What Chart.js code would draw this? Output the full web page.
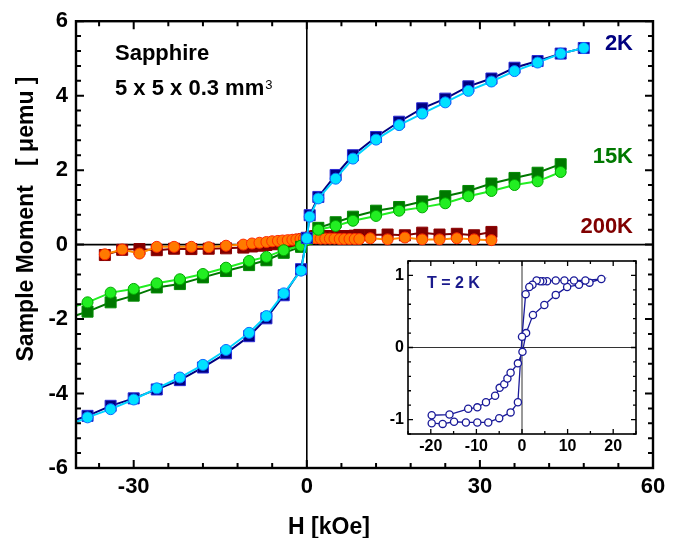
<!DOCTYPE html>
<html><head><meta charset="utf-8">
<script src="https://cdn.jsdelivr.net/npm/chart.js@4.4.1/dist/chart.umd.min.js"></script>
<style>
html,body{margin:0;padding:0;background:#fff;}
#wrap{position:relative;width:678px;height:538px;overflow:hidden;}
#main{position:absolute;left:0;top:0;}
#inset{position:absolute;left:385px;top:245px;}
</style></head><body>
<div id="wrap"><canvas id="main" width="678" height="538"></canvas><canvas id="inset" width="260" height="213"></canvas></div>
<script>
// ---- data (H in kOe, M in micro-emu) ----
const h2k = [-42,-38,-34,-30,-26,-22,-18,-14,-10,-7,-4,-1,0,0.5,2,5,8,12,16,20,24,28,32,36,40,44,48];
const m2kCirc = [-4.90,-4.64,-4.42,-4.16,-3.86,-3.57,-3.23,-2.83,-2.37,-1.92,-1.31,-0.70,0.17,0.75,1.24,1.77,2.31,2.82,3.21,3.52,3.82,4.13,4.38,4.66,4.89,5.13,5.28];
const m2kSq   = [-4.80,-4.60,-4.33,-4.13,-3.89,-3.64,-3.30,-2.92,-2.46,-1.98,-1.36,-0.66,0.18,0.79,1.28,1.87,2.40,2.89,3.30,3.66,3.92,4.25,4.46,4.75,4.93,5.13,5.28];

const h15k = [-42,-38,-34,-30,-26,-22,-18,-14,-10,-7,-4,-1,0,2,5,8,12,16,20,24,28,32,36,40,44];
const m15kCirc = [-1.75,-1.55,-1.29,-1.19,-1.04,-0.93,-0.79,-0.62,-0.44,-0.33,-0.15,-0.03,0.12,0.40,0.50,0.64,0.77,0.91,1.00,1.11,1.30,1.44,1.60,1.70,1.95];
const m15kSq   = [-2.00,-1.80,-1.55,-1.37,-1.15,-1.06,-0.88,-0.71,-0.55,-0.42,-0.22,-0.06,0.15,0.45,0.60,0.75,0.91,1.01,1.16,1.30,1.44,1.64,1.79,1.93,2.16];

const h200k = [-35,-32,-29,-26,-23,-20,-17,-14,-11,-9.5,-8.2,-7,-6,-5,-4.2,-3.3,-2.5,-1.8,-1.1,-0.5,0,0.8,1.6,2.4,3.2,4.0,4.8,5.7,6.5,7.4,8.3,9.1,11,14,17,20,23,26,29,32];
const m200kCirc = [-0.26,-0.13,-0.24,-0.06,-0.06,-0.06,-0.07,-0.03,0.00,0.03,0.05,0.07,0.09,0.10,0.11,0.12,0.13,0.14,0.15,0.16,0.17,0.17,0.17,0.16,0.16,0.16,0.16,0.15,0.15,0.15,0.15,0.15,0.17,0.14,0.19,0.14,0.14,0.17,0.14,0.12];
const m200kSq   = [-0.28,-0.14,-0.12,-0.15,-0.11,-0.12,-0.11,-0.10,-0.08,-0.05,-0.03,-0.01,0.01,0.03,0.05,0.07,0.09,0.11,0.13,0.15,0.18,0.22,0.23,0.23,0.23,0.23,0.23,0.23,0.23,0.23,0.24,0.26,0.26,0.27,0.25,0.32,0.27,0.29,0.25,0.34];

const insetH = [-19.8,-15.9,-11.8,-9.8,-7.9,-5.9,-4.9,-3.9,-3.2,-2.5,-0.9,0.1,0.9,2.4,4.9,7.4,9.9,12.5,14.8,17.4,13.9,11.4,9.3,7.4,5.5,4.6,4.0,3.2,2.3,1.6,0.8,0.0,-0.9,-2.5,-5.0,-7.4,-9.8,-12.3,-14.9,-17.4,-19.8];
const insetM = [-0.94,-0.93,-0.85,-0.83,-0.76,-0.67,-0.56,-0.51,-0.43,-0.35,-0.22,-0.06,0.20,0.45,0.59,0.73,0.84,0.87,0.90,0.95,0.93,0.93,0.93,0.93,0.92,0.92,0.92,0.93,0.87,0.84,0.74,0.15,-0.76,-0.90,-0.98,-1.04,-1.04,-1.04,-1.03,-1.06,-1.05];

const xTicks = [-30,0,30,60];
const yTicks = [-6,-4,-2,0,2,4,6];
const insetXTicks = [-20,-10,0,10,20];
const insetYTicks = [-1,0,1];

// ---- helpers ----
const FAM = '"Liberation Sans", Arial, Helvetica, sans-serif';
const pts = (hs, ms) => hs.map((h, i) => ({x: h, y: ms[i]}));

function series(hs, ms, o) {
  return Object.assign({
    data: pts(hs, ms), showLine: true, clip: 0,
    borderWidth: 2, pointBorderWidth: 1, tension: 0
  }, o);
}

function framePlugin(c) {
  return {
    id: 'frame',
    beforeDatasetsDraw(chart) {
      const {ctx, chartArea: a, scales: {x, y}} = chart;
      ctx.save();
      ctx.strokeStyle = c.zeroColor; ctx.lineWidth = c.zeroWidth;
      const x0 = x.getPixelForValue(0), y0 = y.getPixelForValue(0);
      ctx.beginPath();
      ctx.moveTo(x0, a.top); ctx.lineTo(x0, a.bottom);
      ctx.moveTo(a.left, y0); ctx.lineTo(a.right, y0);
      ctx.stroke();
      ctx.restore();
    },
    afterDatasetsDraw(chart) {
      const {ctx, chartArea: a, scales: {x, y}} = chart;
      ctx.save();
      ctx.strokeStyle = '#000';
      ctx.lineWidth = c.tickWidth;
      ctx.beginPath();
      for (let k = Math.ceil(x.min / c.xMinor - 1e-9); k * c.xMinor <= x.max + 1e-9; k++) {
        const v = k * c.xMinor;
        const major = Math.abs(v / c.xMajor - Math.round(v / c.xMajor)) < 1e-6;
        const L = major ? c.majorLen : c.minorLen;
        const px = x.getPixelForValue(v);
        ctx.moveTo(px, a.bottom); ctx.lineTo(px, a.bottom - L);
        ctx.moveTo(px, a.top); ctx.lineTo(px, a.top + L);
      }
      for (let k = Math.ceil(y.min / c.yMinor - 1e-9); k * c.yMinor <= y.max + 1e-9; k++) {
        const v = k * c.yMinor;
        const major = Math.abs(v / c.yMajor - Math.round(v / c.yMajor)) < 1e-6;
        const L = major ? c.majorLen : c.minorLen;
        const py = y.getPixelForValue(v);
        ctx.moveTo(a.left, py); ctx.lineTo(a.left + L, py);
        ctx.moveTo(a.right, py); ctx.lineTo(a.right - L, py);
      }
      ctx.stroke();
      ctx.lineWidth = c.frameWidth;
      ctx.strokeRect(a.left, a.top, a.right - a.left, a.bottom - a.top);
      ctx.restore();
    }
  };
}

const mainText = {
  id: 'mainText',
  afterDraw(chart) {
    const ctx = chart.ctx;
    ctx.save();
    ctx.textBaseline = 'alphabetic';
    ctx.fillStyle = '#000';
    ctx.font = 'bold 22px ' + FAM;
    ctx.textAlign = 'left';
    ctx.fillText('Sapphire', 115, 60);
    const s = '5 x 5 x 0.3 mm';
    ctx.fillText(s, 115, 95);
    const w = ctx.measureText(s).width;
    ctx.font = '13px ' + FAM;
    ctx.fillText('3', 115 + w + 1, 89);
    ctx.font = 'bold 22px ' + FAM;
    ctx.textAlign = 'right';
    ctx.fillStyle = '#000080'; ctx.fillText('2K', 633, 50);
    ctx.fillStyle = '#007800'; ctx.fillText('15K', 633, 163);
    ctx.fillStyle = '#800000'; ctx.fillText('200K', 633, 233);
    // axis titles
    ctx.fillStyle = '#000';
    ctx.font = 'bold 23px ' + FAM;
    ctx.textAlign = 'center';
    ctx.fillText('H [kOe]', 329, 534);
    ctx.translate(33, 219);
    ctx.rotate(-Math.PI / 2);
    ctx.fillText('Sample Moment   [ \u03BCemu ]', 0, 0);
    ctx.restore();
  }
};

const insetText = {
  id: 'insetText',
  afterDraw(chart) {
    const ctx = chart.ctx;
    ctx.save();
    ctx.fillStyle = '#1a1a8c';
    ctx.font = 'bold 16px ' + FAM;
    ctx.textAlign = 'left';
    ctx.textBaseline = 'alphabetic';
    ctx.fillText('T = 2 K', 427 - 385, 288 - 245);
    ctx.restore();
  }
};

const tickFont = {family: FAM, weight: 'bold', size: 22};

new Chart(document.getElementById('main'), {
  type: 'scatter',
  data: {
    datasets: [
      series(h2k, m2kCirc, {borderColor: '#00d4ff', backgroundColor: '#00e1ff', pointBackgroundColor: '#00e1ff', pointBorderColor: '#0a6cff', pointStyle: 'circle', pointRadius: 5.5}),
      series(h2k, m2kSq, {borderColor: '#000080', backgroundColor: '#000080', pointBackgroundColor: '#000080', pointBorderColor: '#2b2bd6', pointStyle: 'rect', pointRadius: 7.8}),
      series(h15k, m15kCirc, {borderColor: '#22ee22', backgroundColor: '#22ee22', pointBackgroundColor: '#22ee22', pointBorderColor: '#00a800', pointStyle: 'circle', pointRadius: 5.5}),
      series(h15k, m15kSq, {borderColor: '#007800', backgroundColor: '#007800', pointBackgroundColor: '#007800', pointBorderColor: '#008c00', pointStyle: 'rect', pointRadius: 7.8}),
      series(h200k, m200kCirc, {borderColor: '#ff8c00', backgroundColor: '#ff7a00', pointBackgroundColor: '#ff7a00', pointBorderColor: '#ff2a00', pointStyle: 'circle', pointRadius: 5.5}),
      series(h200k, m200kSq, {borderColor: '#800000', backgroundColor: '#800000', pointBackgroundColor: '#800000', pointBorderColor: '#8c0000', pointStyle: 'rect', pointRadius: 7.8})
    ]
  },
  options: {
    responsive: false, animation: false, events: [],
    layout: {padding: {top: 21, right: 25, left: 0, bottom: 0}},
    plugins: {legend: {display: false}, tooltip: {enabled: false}},
    scales: {
      x: {
        type: 'linear', min: -40, max: 60,
        afterBuildTicks: s => { s.ticks = xTicks.map(v => ({value: v})); },
        afterFit: s => { s.height = 70; },
        grid: {display: false, drawTicks: false}, border: {display: false},
        ticks: {padding: 6, font: tickFont, color: '#000', maxRotation: 0, autoSkip: false, callback: v => String(v)}
      },
      y: {
        type: 'linear', min: -6, max: 6,
        afterBuildTicks: s => { s.ticks = yTicks.map(v => ({value: v})); },
        afterFit: s => { s.width = 76; },
        grid: {display: false, drawTicks: false}, border: {display: false},
        ticks: {padding: 8, font: tickFont, color: '#000', autoSkip: false, callback: v => String(v)}
      }
    }
  },
  plugins: [framePlugin({zeroColor: '#000', zeroWidth: 1.6, tickWidth: 2, frameWidth: 2.4, majorLen: 8, minorLen: 5, xMajor: 30, xMinor: 6, yMajor: 2, yMinor: 0.4}), mainText]
});

const insetFont = {family: FAM, weight: 'bold', size: 16};
new Chart(document.getElementById('inset'), {
  type: 'scatter',
  data: {
    datasets: [{
      data: pts(insetH, insetM), showLine: true, tension: 0,
      borderColor: '#1a1a99', borderWidth: 1.3,
      pointStyle: 'circle', pointRadius: 3.6, pointBorderWidth: 1.3,
      pointBackgroundColor: '#ffffff', pointBorderColor: '#1a1a99'
    }]
  },
  options: {
    responsive: false, animation: false, events: [],
    layout: {padding: {top: 16, right: 9, left: 0, bottom: 0}},
    plugins: {legend: {display: false}, tooltip: {enabled: false}},
    scales: {
      x: {
        type: 'linear', min: -25, max: 25,
        afterBuildTicks: s => { s.ticks = insetXTicks.map(v => ({value: v})); },
        afterFit: s => { s.height = 24; },
        grid: {display: false, drawTicks: false}, border: {display: false},
        ticks: {padding: 3, font: insetFont, color: '#000', maxRotation: 0, autoSkip: false, callback: v => String(v)}
      },
      y: {
        type: 'linear', min: -1.2, max: 1.2,
        afterBuildTicks: s => { s.ticks = insetYTicks.map(v => ({value: v})); },
        afterFit: s => { s.width = 23; },
        grid: {display: false, drawTicks: false}, border: {display: false},
        ticks: {padding: 4, font: insetFont, color: '#000', autoSkip: false, callback: v => String(v)}
      }
    }
  },
  plugins: [framePlugin({zeroColor: '#333', zeroWidth: 1, tickWidth: 1.3, frameWidth: 1.6, majorLen: 5, minorLen: 3, xMajor: 10, xMinor: 5, yMajor: 1, yMinor: 0.2}), insetText]
});
</script>
</body></html>
